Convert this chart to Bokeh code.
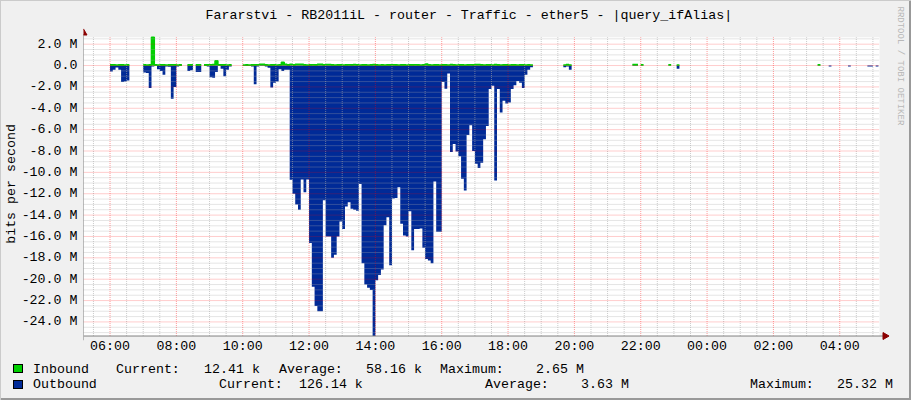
import math
from bokeh.plotting import figure
from bokeh.layouts import column
from bokeh.models import Range1d, FixedTicker, BoxAnnotation, Title, Div
from bokeh.embed import file_html
from bokeh.resources import INLINE

# ---------------- data ----------------
TITLE = "Fararstvi - RB2011iL - router - Traffic - ether5 - |query_ifAlias|"
Y_LABEL = "bits per second"
WATERMARK = "RRDTOOL / TOBI OETIKER"

START_HOUR = 6.0      # first sample 06:00
STEP_MIN = 5          # rrd step (minutes)
N = None              # unknown / no data

# outbound traffic, Mbit/s (drawn negative), one value per 5-minute step
outbound = (
    [0.55, 0.4, 0.19, 0.4, 1.55, 1.5, 1.4]
    + [N, N, N, N, N]
    + [0.65, 0.7, 2.1, 0.1, 0.02, 0.35, 0.5, 0.87, 0.1, 0.12, 3.1, 2.0, 0.1, 0.05]
    + [N, N]
    + [0.5, 0.45]
    + [N]
    + [0.6, 0.6]
    + [N]
    + [0.05, 0.1, 1.1, 1.15, 0.6, 0.05, 0.3, 1.0, 0.4, 0.1]
    + [N, N, N, N]
    + [0.03, 0.05, 0.05, 0.1, 1.75, 0.1, 0.05, 0.05, 0.1, 0.2, 2.05, 1.6, 1.5, 0.35, 0.5, 0.4, 0.4]
    + [10.7, 12.0, 13.0, 13.5, 10.67, 11.85, 10.67, 16.6, 20.7, 22.5, 23.0, 23.0, 12.6, 16.0, 16.0,
       18.0, 17.7, 16.0, 14.6, 15.3, 13.2, 12.8, 13.4, 13.5, 13.6, 11.1, 18.5, 20.5, 20.8, 21.0,
       25.32, 20.1, 19.6]
    + [19.1, 14.95, 14.2, 18.7, 12.45, 12.4, 11.4, 14.8, 15.9, 16.0, 13.65, 17.3, 15.3, 15.3, 15.25,
       17.05, 18.1, 18.25, 18.5, 10.85, 15.55, 15.55, 1.55, 2.17, 0.75, 8.1]
    + [7.35, 8.05, 8.5, 10.6, 11.7, 6.5, 5.6, 8.0, 9.2, 9.6, 9.1, 6.9, 5.65, 2.2, 1.9, 10.75, 2.2,
       4.4, 3.3, 3.55, 3.45, 2.2, 1.85, 1.45, 1.6, 2.1, 0.85, 0.4, 0.15]
    + [N] * 11
    + [0.15, 0.1, 0.4]
    + [N] * 22
    + [0.05, 0.05]
    + [N]
    + [0.02]
    + [N] * 9
    + [0.02]
    + [N, N]
    + [0.3]
    + [N] * 50
    + [0.02]
    + [N, N, N]
    + [0.08]
    + [N] * 6
    + [0.08]
    + [N] * 6
    + [0.08, 0.08]
    + [N]
    + [0.08]
)

# inbound traffic, Mbit/s, one value per 5-minute step
inbound = (
    [0.06, 0.06, 0.05, 0.06, 0.06, 0.05, 0.06]
    + [N, N, N, N, N]
    + [0.06, 0.05, 0.06, 2.65, 0.06, 0.05, 0.06, 0.06, 0.05, 0.06, 0.07, 0.06, 0.05, 0.06]
    + [N, N]
    + [0.06, 0.06]
    + [N]
    + [0.06, 0.07]
    + [N]
    + [0.06, 0.06, 0.07, 0.1, 0.45, 0.08, 0.06, 0.06, 0.05, 0.06]
    + [N, N, N, N]
    + [0.05, 0.06, 0.05, 0.06, 0.06, 0.07, 0.12, 0.12, 0.06, 0.05, 0.06, 0.06, 0.05, 0.07, 0.3, 0.12, 0.06]
    + [0.12, 0.06, 0.12, 0.12, 0.12, 0.06, 0.05, 0.06, 0.07, 0.06, 0.12, 0.12, 0.06, 0.1, 0.1,
       0.06, 0.05, 0.06, 0.06, 0.05, 0.06, 0.07, 0.06, 0.1, 0.06, 0.05, 0.06, 0.06, 0.05, 0.06,
       0.1, 0.06, 0.05]
    + [0.06, 0.05, 0.06, 0.06, 0.07, 0.06, 0.05, 0.06, 0.06, 0.05, 0.06, 0.06, 0.07, 0.06, 0.05,
       0.06, 0.15, 0.06, 0.05, 0.06, 0.06, 0.05, 0.06, 0.06, 0.05, 0.1]
    + [0.06, 0.05, 0.06, 0.06, 0.05, 0.06, 0.07, 0.06, 0.1, 0.1, 0.06, 0.05, 0.06, 0.06, 0.05,
       0.1, 0.06, 0.05, 0.06, 0.06, 0.05, 0.06, 0.06, 0.05, 0.06, 0.06, 0.05, 0.06, 0.05]
    + [N] * 11
    + [0.05, 0.1, 0.05]
    + [N] * 22
    + [0.1, 0.1]
    + [N]
    + [0.08]
    + [N] * 9
    + [0.08]
    + [N, N]
    + [0.05]
    + [N] * 50
    + [0.08]
    + [N] * 22
)

x_ticks = [6, 8, 10, 12, 14, 16, 18, 20, 22, 24, 26, 28]
x_tick_labels = ["06:00", "08:00", "10:00", "12:00", "14:00", "16:00",
                 "18:00", "20:00", "22:00", "00:00", "02:00", "04:00"]
y_ticks = [2, 0, -2, -4, -6, -8, -10, -12, -14, -16, -18, -20, -22, -24]
y_tick_labels = ["2.0 M", "0.0", "-2.0 M", "-4.0 M", "-6.0 M", "-8.0 M", "-10.0 M", "-12.0 M",
                 "-14.0 M", "-16.0 M", "-18.0 M", "-20.0 M", "-22.0 M", "-24.0 M"]

series_names = ["Inbound", "Outbound"]
current_vals = ["12.41 k", "126.14 k"]
average_vals = ["58.16 k", "3.63 M"]
maximum_vals = ["2.65 M", "25.32 M"]

X_START, X_END = 5.2, 29.2          # 24 h window shown
Y_MIN, Y_MAX = -25.32, 2.65         # graph limits (Mbit/s)

# ---------------- style / layout ----------------
FONT = "Liberation Mono"
FS = "13.3px"
GREEN = "#00CF00"
BLUE = "#002A97"
BACK = "#F0F0F0"
ARROW = "#8B0000"
AXIS = "#808080"

W, H_MAIN, H_LEG = 911, 356, 44
FRAME_L, FRAME_R, FRAME_T, FRAME_B = 80, 890, 26, 341     # page pixels
DATA_L, DATA_R, DATA_T, DATA_B = 80, 880, 35.8, 336.5     # white canvas in page pixels
PX_H = (DATA_R - DATA_L) / (X_END - X_START)
PX_M = (DATA_B - DATA_T) / (Y_MAX - Y_MIN)


def xd(px):   # page pixel -> hours
    return X_START + (px - DATA_L) / PX_H


def yd(py):   # page pixel -> Mbit/s
    return Y_MAX - (py - DATA_T) / PX_M


p = figure(width=W, height=H_MAIN, output_backend="svg", toolbar_location=None,
           x_range=Range1d(xd(FRAME_L), xd(FRAME_R)), y_range=Range1d(yd(FRAME_B), yd(FRAME_T)),
           min_border_left=FRAME_L, min_border_right=W - FRAME_R,
           min_border_top=FRAME_T, min_border_bottom=H_MAIN - FRAME_B)
p.border_fill_color = BACK
p.background_fill_color = BACK
p.outline_line_color = None
p.xgrid.visible = False
p.ygrid.visible = False

p.title.text = TITLE
p.title.align = "left"
p.title.offset = 122
p.title.standoff = 10
p.title.text_font = FONT
p.title.text_font_size = FS
p.title.text_font_style = "normal"
p.title.text_color = "#000000"

p.add_layout(Title(text=WATERMARK, align="left", offset=5 - FRAME_T, standoff=10,
                   text_font=FONT, text_font_size="9px", text_font_style="normal",
                   text_color="#B8B8B8"), "right")

# white graph canvas
p.add_layout(BoxAnnotation(left=X_START, right=X_END, bottom=Y_MIN, top=Y_MAX, level="underlay",
                           fill_color="white", fill_alpha=1.0, line_color=None))


def t_of(i):
    return START_HOUR + i * STEP_MIN / 60.0


def runs(vals):
    out, cur = [], []
    for i, v in enumerate(vals):
        if v is None:
            if cur:
                out.append(cur)
                cur = []
        else:
            cur.append(i)
    if cur:
        out.append(cur)
    return out


for idx in runs(outbound):
    xs = [t_of(i) for i in idx] + [t_of(idx[-1] + 1)]
    ys = [-outbound[i] for i in idx] + [-outbound[idx[-1]]]
    p.varea_step(x=xs, y1=[0] * len(xs), y2=ys, step_mode="after", fill_color=BLUE)

for idx in runs(inbound):
    xs = [t_of(i) for i in idx] + [t_of(idx[-1] + 1)]
    ys = [inbound[i] for i in idx] + [inbound[idx[-1]]]
    p.varea_step(x=xs, y1=[0] * len(xs), y2=ys, step_mode="after", fill_color=GREEN)
    p.step(x=xs, y=ys, mode="after", line_color=GREEN, line_width=1.6)

# grid (drawn above the data, like rrdtool), limited to the white canvas
x_minor = [k * 0.5 for k in range(int(X_START * 2) + 1, int(X_END * 2) + 1)]
x_minor = [m for m in x_minor if not (m == int(m) and int(m) % 2 == 0)]
y_minor = [k * 0.5 for k in range(int(Y_MIN * 2), int(Y_MAX * 2) + 1)]
y_minor = [m for m in y_minor if not (m == int(m) and int(m) % 2 == 0)]

MINOR = dict(line_color="#A8A8A8", line_alpha=0.6, line_width=1, line_dash="1 1")
MAJOR = dict(line_color="#FF0000", line_alpha=0.4, line_width=1, line_dash="1 1")
p.segment(x0=x_minor, y0=Y_MIN, x1=x_minor, y1=Y_MAX, **MINOR)
p.segment(x0=X_START, y0=y_minor, x1=X_END, y1=y_minor, **MINOR)
p.segment(x0=x_ticks, y0=Y_MIN, x1=x_ticks, y1=Y_MAX, **MAJOR)
p.segment(x0=X_START, y0=y_ticks, x1=X_END, y1=y_ticks, **MAJOR)

# axis lines with arrow heads
p.segment(x0=[X_START, X_START], y0=[yd(FRAME_B), Y_MIN], x1=[X_START, xd(885)], y1=[yd(33), Y_MIN],
          line_color=AXIS, line_width=1)
p.scatter(x=[X_START], y=[yd(31.5)], marker="triangle", size=7, fill_color=ARROW, line_color=ARROW)
p.scatter(x=[xd(885.5)], y=[Y_MIN], marker="triangle", size=7, angle=-math.pi / 2,
          fill_color=ARROW, line_color=ARROW)

p.xaxis.ticker = FixedTicker(ticks=x_ticks, minor_ticks=[])
p.xaxis.major_label_overrides = dict(zip(x_ticks, x_tick_labels))
p.yaxis.ticker = FixedTicker(ticks=y_ticks, minor_ticks=[])
p.yaxis.major_label_overrides = dict(zip(y_ticks, y_tick_labels))

for ax in (p.xaxis, p.yaxis):
    ax.axis_line_color = None
    ax.major_tick_line_color = None
    ax.minor_tick_line_color = None
    ax.major_tick_out = 0
    ax.major_tick_in = 0
    ax.minor_tick_out = 0
    ax.minor_tick_in = 0
    ax.major_label_text_font = FONT
    ax.major_label_text_font_size = FS
    ax.major_label_text_color = "#000000"
p.xaxis.major_label_standoff = -2
p.yaxis.major_label_standoff = 6
p.yaxis.axis_label = Y_LABEL
p.yaxis.axis_label_standoff = 0
p.yaxis.axis_label_text_font = FONT
p.yaxis.axis_label_text_font_size = FS
p.yaxis.axis_label_text_font_style = "normal"
p.yaxis.axis_label_text_color = "#000000"

# ---------------- legend strip (positions in page pixels) ----------------
row_base = [372.5, 388.0]
sq_top = [364, 380]
colors = [GREEN, BLUE]
cols = [
    [33, 116, 204, 279, 366, 440, 536],
    [33, 219, 299, 485, 581, 750, 837],
]
ASC = 11  # baseline offset inside a 15px line box
parts = []
for r in range(2):
    parts.append(
        f'<div style="position:absolute;left:13px;top:{sq_top[r] - H_MAIN}px;width:10px;height:9px;'
        f'box-sizing:border-box;border:1px solid #000;background:{colors[r]};"></div>')
    texts = [series_names[r], "Current:", current_vals[r], "Average:", average_vals[r],
             "Maximum:", maximum_vals[r]]
    for X, txt in zip(cols[r], texts):
        parts.append(
            f'<span style="position:absolute;left:{X}px;top:{row_base[r] - ASC - H_MAIN}px;'
            f"font-family:'{FONT}';font-size:{FS};line-height:15px;white-space:pre;"
            f'color:#000;">{txt}</span>')
legend_html = (f'<div style="position:relative;width:{W}px;height:{H_LEG}px;margin:0;padding:0;'
               f'background:{BACK};overflow:hidden;">' + "".join(parts) + "</div>")
leg = Div(text=legend_html, width=W, height=H_LEG, margin=0,
          styles={"background-color": BACK, "margin": "0", "padding": "0"})

layout = column(p, leg, spacing=0)
html = file_html(layout, INLINE, title="Traffic - ether5")
html = html.replace(
    "</head>",
    "<style>html,body{background:#F0F0F0;}"
    "body::after{content:'';position:fixed;left:0;top:0;right:0;bottom:0;pointer-events:none;"
    "z-index:10;box-shadow:inset 1px 1px 0 #CBCBCB,inset -2px -2px 0 #999999;}</style></head>", 1)
open("out.html", "w").write(html)
